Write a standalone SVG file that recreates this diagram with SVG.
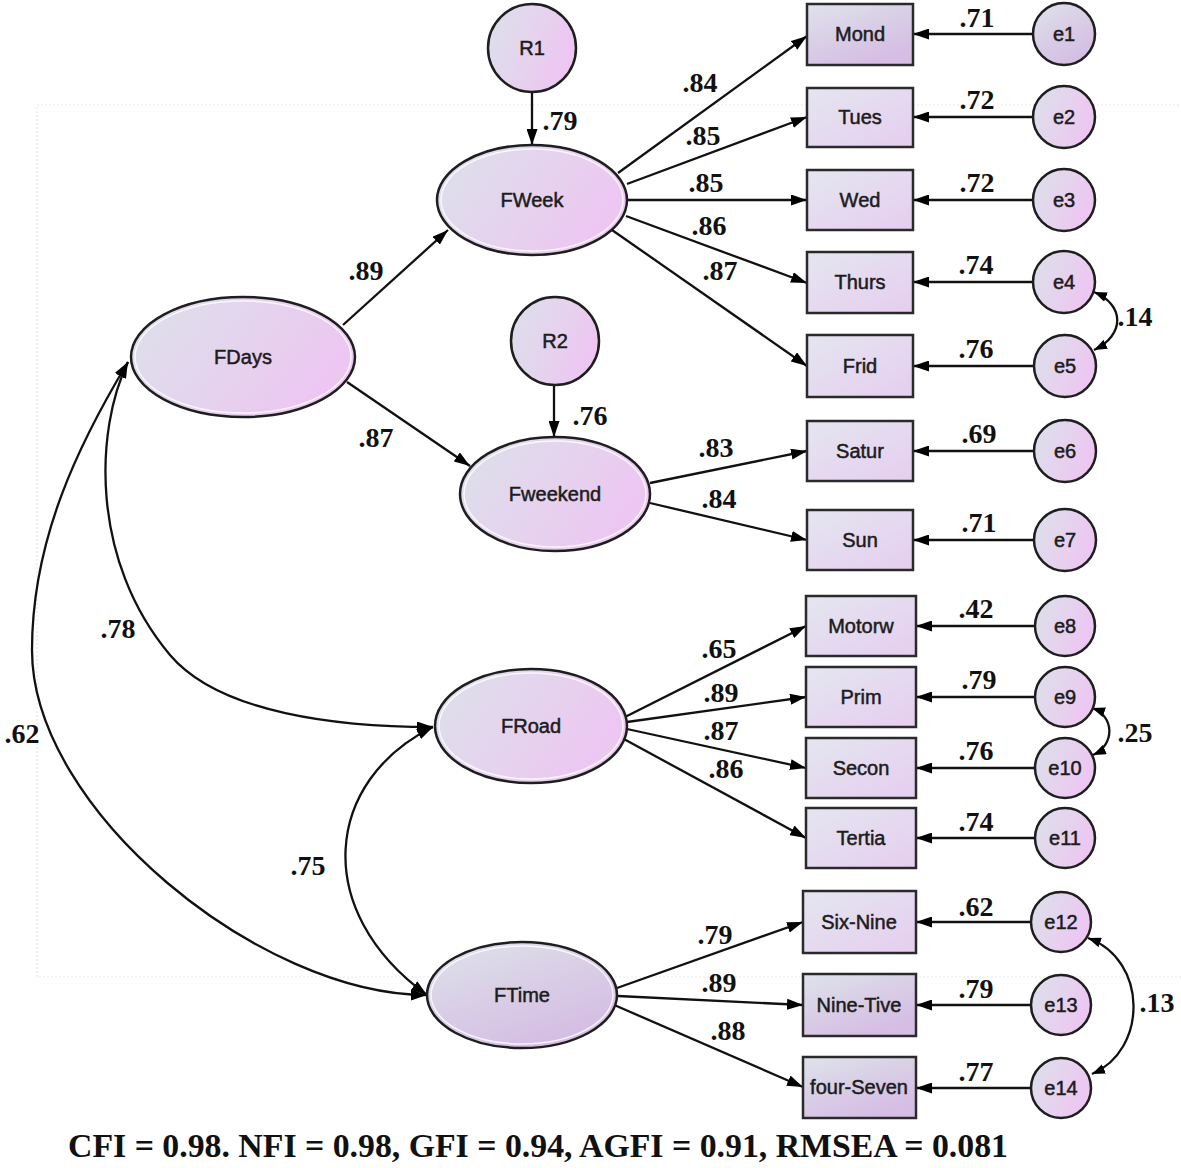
<svg xmlns="http://www.w3.org/2000/svg" width="1181" height="1168" viewBox="0 0 1181 1168">
<defs>
<linearGradient id="gE" x1="0" y1="0" x2="1" y2="0.4">
<stop offset="0" stop-color="#dbe1ea"/>
<stop offset="0.6" stop-color="#e6d2ee"/>
<stop offset="1" stop-color="#edc6f2"/>
</linearGradient>
<linearGradient id="gD" x1="0" y1="0" x2="0.6" y2="1">
<stop offset="0" stop-color="#dfe3ec"/>
<stop offset="0.5" stop-color="#d9cfe6"/>
<stop offset="1" stop-color="#d5bde4"/>
</linearGradient>
<linearGradient id="gB" x1="0" y1="0" x2="1" y2="1">
<stop offset="0" stop-color="#e4e6f0"/>
<stop offset="1" stop-color="#e6cdef"/>
</linearGradient>
<marker id="ar" viewBox="0 0 16 11" refX="16" refY="5.5" markerWidth="16" markerHeight="11" markerUnits="userSpaceOnUse" orient="auto-start-reverse">
<path d="M0,0 L16,5.5 L0,11 z" fill="#000"/>
</marker>
<marker id="as" viewBox="0 0 13 10" refX="13" refY="5" markerWidth="13" markerHeight="10" markerUnits="userSpaceOnUse" orient="auto-start-reverse">
<path d="M0,0 L13,5 L0,10 z" fill="#000"/>
</marker>
</defs>
<style>
.lat{fill:url(#gE);stroke:#1e1e1e;stroke-width:2.5}
.latd{fill:url(#gD);stroke:#1e1e1e;stroke-width:2.5}
.hl{fill:none;stroke:#ffffff;stroke-opacity:0.8;stroke-width:1.5}
.box{fill:url(#gB);stroke:#2a2a2a;stroke-width:2.5}
.boxd{fill:url(#gD);stroke:#2a2a2a;stroke-width:2.5}
.err{fill:url(#gE);stroke:#1e1e1e;stroke-width:2.5}
.errd{fill:url(#gD);stroke:#1e1e1e;stroke-width:2.5}
.nt{font-family:"Liberation Sans",Arial,sans-serif;font-size:20px;fill:#1c1c1c;stroke:#1c1c1c;stroke-width:0.5;text-anchor:middle}
.lab{font-family:"Liberation Serif","Times New Roman",serif;font-size:28px;font-weight:bold;fill:#111;text-anchor:middle}
.ln{fill:none;stroke:#111;stroke-width:2.3;marker-end:url(#ar)}
.cv{fill:none;stroke:#111;stroke-width:2.3;marker-start:url(#ar);marker-end:url(#ar)}
.cs{fill:none;stroke:#111;stroke-width:2.3;marker-start:url(#as);marker-end:url(#as)}
.fit{font-family:"Liberation Serif","Times New Roman",serif;font-size:34px;font-weight:bold;fill:#111}
</style>
<rect x="0" y="0" width="1181" height="1168" fill="#ffffff"/>
<rect x="37" y="105" width="1150" height="872" fill="none" stroke="#f0f0f0" stroke-width="1.5" stroke-dasharray="2 2"/>

<g id="connectors">
<path class="ln" d="M532,92 L532,145"/>
<path class="ln" d="M554,386 L554,437"/>
<path class="ln" d="M343,325 L448,230"/>
<path class="ln" d="M347,382 L470,466"/>
<path class="ln" d="M618,173 L807,36"/>
<path class="ln" d="M627,184 L807,117"/>
<path class="ln" d="M628,200 L807,200"/>
<path class="ln" d="M626,216 L807,283"/>
<path class="ln" d="M612,230 L807,366"/>
<path class="ln" d="M650,483 L807,451"/>
<path class="ln" d="M650,503 L807,540"/>
<path class="ln" d="M625,717 L806,626"/>
<path class="ln" d="M627,722 L806,697"/>
<path class="ln" d="M627,729 L806,768"/>
<path class="ln" d="M622,738 L806,838"/>
<path class="ln" d="M617,988 L803,922"/>
<path class="ln" d="M618,996 L803,1005"/>
<path class="ln" d="M612,1004 L803,1087"/>
<path class="ln" d="M1033,34 L913,34"/>
<path class="ln" d="M1033,117 L913,117"/>
<path class="ln" d="M1033,200 L913,200"/>
<path class="ln" d="M1033,282 L913,282"/>
<path class="ln" d="M1034,366 L913,366"/>
<path class="ln" d="M1034,451 L913,451"/>
<path class="ln" d="M1034,540 L913,540"/>
<path class="ln" d="M1035,626 L916,626"/>
<path class="ln" d="M1035,697 L916,697"/>
<path class="ln" d="M1035,768 L916,768"/>
<path class="ln" d="M1035,838 L916,838"/>
<path class="ln" d="M1031,922 L916,922"/>
<path class="ln" d="M1031,1005 L916,1005"/>
<path class="ln" d="M1031,1088 L916,1088"/>
<path class="cv" d="M128,362 C78,445 32,540 32,650 C32,810 260,995 427,995"/>
<path class="cv" d="M128,362 C95,430 90,560 170,655 C220,714 340,727 433,727"/>
<path class="cv" d="M433,727 C325,780 310,910 427,995"/>
<path class="cs" d="M1094,292 C1125,305 1125,335 1094,350"/>
<path class="cs" d="M1092,708 C1115,716 1115,745 1093,755"/>
<path class="cs" d="M1088,938 C1148,960 1148,1050 1092,1074"/>
</g>

<g id="labels">
<text class="lab" x="560" y="130">.79</text>
<text class="lab" x="590" y="425">.76</text>
<text class="lab" x="366" y="280">.89</text>
<text class="lab" x="376" y="447">.87</text>
<text class="lab" x="700" y="92">.84</text>
<text class="lab" x="703" y="145">.85</text>
<text class="lab" x="706" y="192">.85</text>
<text class="lab" x="709" y="235">.86</text>
<text class="lab" x="720" y="280">.87</text>
<text class="lab" x="716" y="457">.83</text>
<text class="lab" x="719" y="508">.84</text>
<text class="lab" x="719" y="658">.65</text>
<text class="lab" x="721" y="702">.89</text>
<text class="lab" x="721" y="740">.87</text>
<text class="lab" x="726" y="778">.86</text>
<text class="lab" x="715" y="944">.79</text>
<text class="lab" x="719" y="992">.89</text>
<text class="lab" x="728" y="1040">.88</text>
<text class="lab" x="977" y="27">.71</text>
<text class="lab" x="977" y="109">.72</text>
<text class="lab" x="977" y="192">.72</text>
<text class="lab" x="976" y="274">.74</text>
<text class="lab" x="976" y="358">.76</text>
<text class="lab" x="979" y="443">.69</text>
<text class="lab" x="979" y="532">.71</text>
<text class="lab" x="976" y="618">.42</text>
<text class="lab" x="979" y="689">.79</text>
<text class="lab" x="976" y="760">.76</text>
<text class="lab" x="976" y="831">.74</text>
<text class="lab" x="976" y="916">.62</text>
<text class="lab" x="976" y="998">.79</text>
<text class="lab" x="976" y="1081">.77</text>
<text class="lab" x="1135" y="326">.14</text>
<text class="lab" x="1135" y="742">.25</text>
<text class="lab" x="1157" y="1012">.13</text>
<text class="lab" x="118" y="638">.78</text>
<text class="lab" x="22" y="743">.62</text>
<text class="lab" x="308" y="875">.75</text>
</g>

<g id="R1"><circle class="lat" cx="532" cy="48" r="44"/><text class="nt" x="532" y="55">R1</text></g>
<g id="R2"><circle class="lat" cx="555" cy="341" r="44"/><text class="nt" x="555" y="348">R2</text></g>
<g id="FWeek"><ellipse class="lat" cx="532" cy="200" rx="95" ry="55"/><ellipse class="hl" cx="532" cy="200" rx="91" ry="51"/><text class="nt" x="532" y="207">FWeek</text></g>
<g id="FDays"><ellipse class="lat" cx="243" cy="357" rx="112" ry="60"/><ellipse class="hl" cx="243" cy="357" rx="108" ry="56"/><text class="nt" x="243" y="364">FDays</text></g>
<g id="Fweekend"><ellipse class="lat" cx="555" cy="494" rx="95" ry="57"/><ellipse class="hl" cx="555" cy="494" rx="91" ry="53"/><text class="nt" x="555" y="501">Fweekend</text></g>
<g id="FRoad"><ellipse class="lat" cx="531" cy="726" rx="96" ry="57"/><ellipse class="hl" cx="531" cy="726" rx="92" ry="53"/><text class="nt" x="531" y="733">FRoad</text></g>
<g id="FTime"><ellipse class="latd" cx="522" cy="995" rx="95" ry="53"/><ellipse class="hl" cx="522" cy="995" rx="91" ry="49"/><text class="nt" x="522" y="1002">FTime</text></g>

<g id="Mond"><rect class="boxd" x="807" y="4" width="106" height="61"/><text class="nt" x="860" y="41">Mond</text></g>
<g id="Tues"><rect class="box" x="807" y="88" width="106" height="59"/><text class="nt" x="860" y="124">Tues</text></g>
<g id="Wed"><rect class="box" x="807" y="170" width="106" height="60"/><text class="nt" x="860" y="207">Wed</text></g>
<g id="Thurs"><rect class="box" x="807" y="252" width="106" height="61"/><text class="nt" x="860" y="289">Thurs</text></g>
<g id="Frid"><rect class="box" x="807" y="335" width="106" height="62"/><text class="nt" x="860" y="373">Frid</text></g>
<g id="Satur"><rect class="box" x="807" y="421" width="106" height="60"/><text class="nt" x="860" y="458">Satur</text></g>
<g id="Sun"><rect class="box" x="807" y="510" width="106" height="60"/><text class="nt" x="860" y="547">Sun</text></g>
<g id="Motorw"><rect class="box" x="806" y="596" width="110" height="60"/><text class="nt" x="861" y="633">Motorw</text></g>
<g id="Prim"><rect class="box" x="806" y="667" width="110" height="60"/><text class="nt" x="861" y="704">Prim</text></g>
<g id="Secon"><rect class="box" x="806" y="738" width="110" height="60"/><text class="nt" x="861" y="775">Secon</text></g>
<g id="Tertia"><rect class="box" x="806" y="808" width="110" height="60"/><text class="nt" x="861" y="845">Tertia</text></g>
<g id="Six-Nine"><rect class="box" x="803" y="891" width="113" height="62"/><text class="nt" x="859" y="929">Six-Nine</text></g>
<g id="Nine-Tive"><rect class="boxd" x="803" y="974" width="113" height="62"/><text class="nt" x="859" y="1012">Nine-Tive</text></g>
<g id="four-Seven"><rect class="boxd" x="803" y="1057" width="113" height="61"/><text class="nt" x="859" y="1094">four-Seven</text></g>

<g id="e1"><circle class="errd" cx="1064" cy="34" r="31"/><text class="nt" x="1064" y="41">e1</text></g>
<g id="e2"><circle class="err" cx="1064" cy="117" r="31"/><text class="nt" x="1064" y="124">e2</text></g>
<g id="e3"><circle class="err" cx="1064" cy="200" r="31"/><text class="nt" x="1064" y="207">e3</text></g>
<g id="e4"><circle class="err" cx="1064" cy="282" r="31"/><text class="nt" x="1064" y="289">e4</text></g>
<g id="e5"><circle class="err" cx="1065" cy="366" r="31"/><text class="nt" x="1065" y="373">e5</text></g>
<g id="e6"><circle class="err" cx="1065" cy="451" r="31"/><text class="nt" x="1065" y="458">e6</text></g>
<g id="e7"><circle class="err" cx="1065" cy="540" r="31"/><text class="nt" x="1065" y="547">e7</text></g>
<g id="e8"><circle class="err" cx="1065" cy="626" r="30"/><text class="nt" x="1065" y="633">e8</text></g>
<g id="e9"><circle class="err" cx="1065" cy="697" r="30"/><text class="nt" x="1065" y="704">e9</text></g>
<g id="e10"><circle class="err" cx="1065" cy="768" r="30"/><text class="nt" x="1065" y="775">e10</text></g>
<g id="e11"><circle class="err" cx="1065" cy="838" r="30"/><text class="nt" x="1065" y="845">e11</text></g>
<g id="e12"><circle class="err" cx="1061" cy="922" r="30"/><text class="nt" x="1061" y="929">e12</text></g>
<g id="e13"><circle class="err" cx="1061" cy="1005" r="30"/><text class="nt" x="1061" y="1012">e13</text></g>
<g id="e14"><circle class="err" cx="1061" cy="1088" r="30"/><text class="nt" x="1061" y="1095">e14</text></g>

<text class="fit" x="68" y="1157" textLength="940" lengthAdjust="spacingAndGlyphs">CFI = 0.98. NFI = 0.98, GFI = 0.94, AGFI = 0.91, RMSEA = 0.081</text>
</svg>
